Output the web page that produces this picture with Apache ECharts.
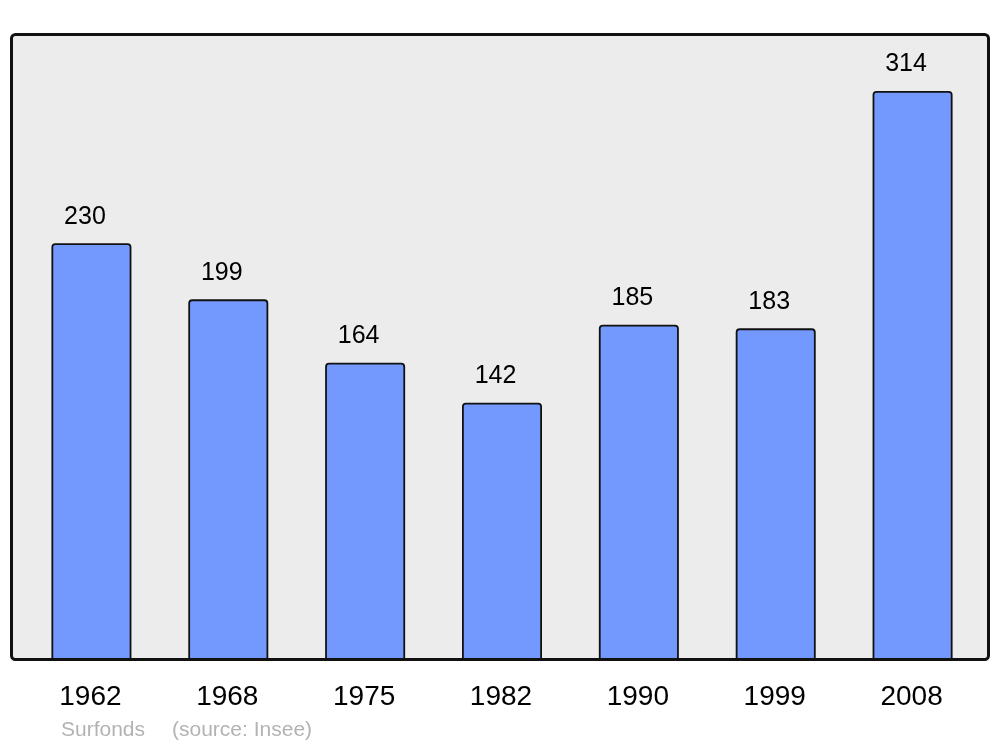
<!DOCTYPE html>
<html>
<head>
<meta charset="utf-8">
<script src="https://cdn.jsdelivr.net/npm/echarts@6/dist/echarts.min.js"></script>
<style>
html,body{margin:0;padding:0;background:#fff;}
#chart{width:1000px;height:747px;}
</style>
</head>
<body>
<div id="chart"></div>
<script>
const years = ['1962', '1968', '1975', '1982', '1990', '1999', '2008'];
const population = [230, 199, 164, 142, 185, 183, 314];
const sourceName = 'Surfonds';
const sourceNote = '(source: Insee)';

const chart = echarts.init(document.getElementById('chart'), null, {renderer: 'canvas'});
const FONT = '"Liberation Sans", Arial, sans-serif';
const yMax = Math.max(...population) * 1.1;

chart.setOption({
  animation: false,
  backgroundColor: '#ffffff',
  graphic: [
    {type: 'rect', z: -10, shape: {x: 11.5, y: 34.5, width: 977, height: 625, r: 4},
     style: {fill: '#ececec', stroke: null}},
    {type: 'rect', z: 100, shape: {x: 11.5, y: 34.5, width: 977, height: 625, r: 4},
     style: {fill: null, stroke: '#111111', lineWidth: 3}},
    {type: 'text', left: 61, top: 720, style: {text: sourceName, fill: '#b3b3b3', font: '21px ' + FONT}},
    {type: 'text', left: 172, top: 720, style: {text: sourceNote, fill: '#b3b3b3', font: '21px ' + FONT}}
  ],
  grid: {left: 23, right: 19, top: 34, bottom: 87, containLabel: false},
  xAxis: {
    type: 'category',
    data: years,
    axisLine: {show: false},
    axisTick: {show: false},
    axisLabel: {color: '#000', fontSize: 28, fontFamily: FONT, margin: 23, padding: [0, 2, 0, 0]}
  },
  yAxis: {
    type: 'value',
    min: 0,
    max: yMax,
    show: false,
    splitLine: {show: false}
  },
  series: [{
    type: 'bar',
    data: population,
    barWidth: 80,
    itemStyle: {color: '#7399ff', borderColor: '#111111', borderWidth: 1.8, borderRadius: [3, 3, 0, 0]},
    label: {
      show: true,
      position: 'top',
      distance: 14,
      offset: [-6.5, 0],
      color: '#000',
      fontSize: 25,
      fontFamily: FONT
    }
  }]
});
</script>
</body>
</html>
